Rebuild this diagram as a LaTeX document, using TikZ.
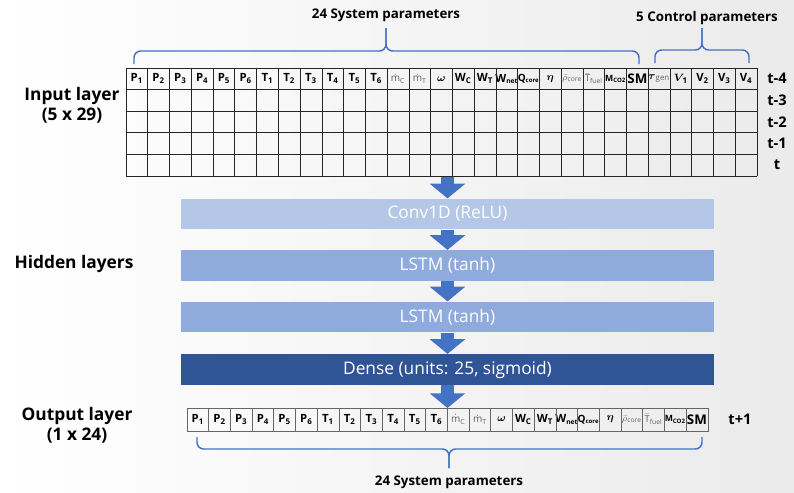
\documentclass[tikz,border=0pt]{standalone}
\usepackage{amsmath, amssymb}
\usepackage{fontspec}
\setmainfont{Open Sans}
\usetikzlibrary{arrows.meta}
\definecolor{arrowblue}{RGB}{68,114,196}
\definecolor{convblue}{RGB}{180,199,231}
\definecolor{lstmblue}{RGB}{143,170,220}
\definecolor{denseblue}{RGB}{47,85,151}
\definecolor{dimtext}{RGB}{100,100,100}

% feature names (24 system + 5 control)
\newcommand{\syslist}{{P\textsubscript{1}},{P\textsubscript{2}},{P\textsubscript{3}},
  {P\textsubscript{4}},{P\textsubscript{5}},{P\textsubscript{6}},
  {T\textsubscript{1}},{T\textsubscript{2}},{T\textsubscript{3}},
  {T\textsubscript{4}},{T\textsubscript{5}},{T\textsubscript{6}},
  {\color{dimtext}\mdseries\fontsize{7.5}{8}\selectfont$\dot{\mathrm{m}}_{\mathrm{C}}$},
  {\color{dimtext}\mdseries\fontsize{7.5}{8}\selectfont$\dot{\mathrm{m}}_{\mathrm{T}}$},
  {$\boldsymbol{\omega}$},{W\textsubscript{C}},{W\textsubscript{T}},
  {W\textsubscript{\fontsize{5}{5}\selectfont net}},
  {\fontsize{7.5}{8}\selectfont Q\textsubscript{\fontsize{4.5}{5}\selectfont core}},
  {$\boldsymbol{\eta}$},
  {\color{dimtext}\fontsize{7}{8}\selectfont$\bar{\rho}_{\mathrm{core}}$},
  {\color{dimtext}\fontsize{7}{8}\selectfont$\bar{\mathrm{T}}_{\mathrm{fuel}}$},
  {\fontsize{6.5}{7}\selectfont M\textsubscript{CO2}},{\fontsize{10}{11}\selectfont SM}}
\newcommand{\ctrllist}{{$\boldsymbol{\tau}_{\color{dimtext}\mathrm{gen}}$},
  {$\boldsymbol{V}_{\!\mathbf{1}}$},{V\textsubscript{2}},{V\textsubscript{3}},{V\textsubscript{4}}}

\tikzset{
  cell/.style={inner sep=0pt, font=\fontsize{8.5}{9}\selectfont\bfseries},
  layerbox/.style={minimum width=400pt, minimum height=23pt, inner sep=0pt,
    text=white, font=\fontsize{13}{15}\selectfont},
  fatarrow/.style={arrowblue, line width=10pt, -{Triangle[length=11pt,width=26pt]}},
  bracket/.style={arrowblue, line width=1.1pt, rounded corners=5pt},
  steplabel/.style={font=\fontsize{11}{12}\selectfont\bfseries},
  sidelabel/.style={align=center, font=\fontsize{13}{15}\selectfont\bfseries},
  toplabel/.style={font=\fontsize{10}{12}\selectfont\bfseries}
}

\begin{document}
\begin{tikzpicture}[x=0.75pt, y=-0.75pt]
  \useasboundingbox (0,0) rectangle (794,493);
  \shade[left color=white, right color=black!8] (0,0) rectangle (794,493);

  % input window: 5 time steps x 29 features
  \foreach \lbl [count=\i] in \syslist
    \node[cell] (in\i) at ({126+(\i-0.5)*21.76},78.8) {\lbl};
  \foreach \lbl [count=\i from 25] in \ctrllist
    \node[cell] (in\i) at ({126+(\i-0.5)*21.76},78.8) {\lbl};
  \foreach \i in {0,...,29}
    \draw[black!85, line width=0.5pt] ({126+\i*21.76},68) -- ({126+\i*21.76},176);
  \foreach \j in {0,...,5}
    \draw[black!85, line width=0.5pt] (126,{68+\j*21.6}) -- (757,{68+\j*21.6});
  \foreach \t [count=\j] in {t-4,t-3,t-2,t-1,t}
    \node[steplabel] (step\j) at (777,{68+(\j-0.5)*21.6}) {\t};

  % braces over the two groups
  \draw[bracket] (134,64) |- (386,51) -- (386,28);
  \draw[bracket] (386,28) -- (386,51) -| (639,64);
  \draw[bracket] (655,63) |- (702,50) -- (702,28);
  \draw[bracket] (702,28) -- (702,50) -| (749,63);
  \node[toplabel] (systop) at (386,15) {24 System parameters};
  \node[toplabel] (ctrltop) at (707,18) {5 Control parameters};

  % left captions
  \node[sidelabel] (inlabel) at (72,105) {Input layer\\(5 x 29)};
  \node[sidelabel] (hidlabel) at (74,264) {Hidden layers};
  \node[sidelabel] (outlabel) at (77,425) {Output layer\\(1 x 24)};

  % network layers
  \node[layerbox, fill=convblue] (conv) at (447.5,214) {Conv1D (ReLU)};
  \node[layerbox, fill=lstmblue] (lstma) at (447.5,265.5) {LSTM (tanh)};
  \node[layerbox, fill=lstmblue] (lstmb) at (447.5,317) {LSTM (tanh)};
  \node[layerbox, fill=denseblue] (dense) at (447.5,369.5) {Dense (units: 25, sigmoid)};

  \coordinate (inbot) at (447.5,176.5);
  \coordinate (outtop) at (447.5,408);
  \draw[fatarrow] (inbot) -- (conv);
  \draw[fatarrow] (conv) -- (lstma);
  \draw[fatarrow] (lstma) -- (lstmb);
  \draw[fatarrow] (lstmb) -- (dense);
  \draw[fatarrow] (dense) -- (outtop);

  % output row: next time step
  \foreach \lbl [count=\i] in \syslist
    \node[cell] (out\i) at ({187+(\i-0.5)*21.7},419.5) {\lbl};
  \foreach \i in {1,...,23}
    \draw[black!60, line width=0.5pt] ({187+\i*21.7},408) -- ({187+\i*21.7},431);
  \draw[black!60, line width=0.6pt] (187,408) rectangle (708,431);
  \node[steplabel] (stepnext) at (740,419.5) {t+1};

  % brace under the output row
  \draw[bracket] (197,437) |- (449,449) -- (449,468);
  \draw[bracket] (449,468) -- (449,449) -| (702,437);
  \node[toplabel] (sysbot) at (449,482) {24 System parameters};
\end{tikzpicture}
\end{document}
